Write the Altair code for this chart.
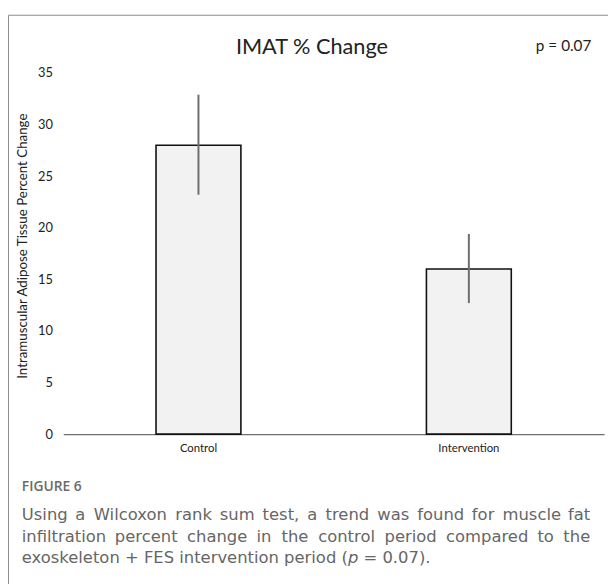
import altair as alt
import pandas as pd

groups = ["Control", "Intervention"]
means = [28.0, 16.0]
err_low = [23.2, 12.7]
err_high = [32.9, 19.4]
y_ticks = [0, 5, 10, 15, 20, 25, 30, 35]

chart_title = "IMAT % Change"
p_label = "p = 0.07"
y_title = "Intramuscular Adipose Tissue Percent Change"
fig_label = "FIGURE 6"
cap_line1 = "Using a Wilcoxon rank sum test, a trend was found for muscle fat"
cap_line2 = "infiltration percent change in the control period compared to the"
cap3_a = "exoskeleton + FES intervention period ("
cap3_p = "p"
cap3_b = "= 0.07)."

df = pd.DataFrame({"group": groups, "mean": means, "lo": err_low, "hi": err_high})

FONT = "Lato"
CAP_FONT = "DejaVu Sans"
CAP_SIZE = 16.6
CAPC = "#666666"

# approximate DejaVu Sans advance widths (units per em = 2048), used only to lay out
# the justified caption words
ADV = {" ": 651, "a": 1255, "b": 1300, "c": 1126, "d": 1300, "e": 1260, "f": 721, "g": 1300,
       "h": 1298, "i": 569, "k": 1186, "l": 569, "m": 1995, "n": 1298, "o": 1253, "p": 1300,
       "r": 842, "s": 1067, "t": 803, "u": 1298, "v": 1212, "w": 1675, "x": 1212, "y": 1212,
       "U": 1499, "W": 2025, "F": 1178, "E": 1294, "S": 1300, ",": 651, ".": 651, "(": 799,
       ")": 799, "+": 1716, "=": 1716, "0": 1303, "7": 1303}


def tw(s, size=CAP_SIZE, k=0.98):
    return sum(ADV.get(ch, 1200) for ch in s) / 2048.0 * size * k


# page x -> plot-relative x (8px page margin + 56px left padding)
def rx(page_x):
    return page_x - 64


one = pd.DataFrame({"a": [0]})

x_enc = alt.X("group:N", sort=groups,
              scale=alt.Scale(paddingInner=0, paddingOuter=0),
              axis=alt.Axis(title=None, labelAngle=0, ticks=False, domainColor="#6f6f6f",
                            domainWidth=1.3, labelPadding=9, labelFontSize=11.5,
                            labelColor="#222", labelFont=FONT))
y_enc = alt.Y("mean:Q", scale=alt.Scale(domain=[0, 35], nice=False),
              axis=alt.Axis(title=y_title, values=y_ticks, domain=False, ticks=False, grid=False,
                            labelPadding=11, labelFontSize=13, labelColor="#222", labelFont=FONT,
                            titleFont=FONT, titleFontSize=13.5, titleFontWeight="normal",
                            titleColor="#222", titleX=-34, titleY=175, titleAngle=-90,
                            titleBaseline="bottom", titleAlign="center"))

bars = alt.Chart(df).mark_bar(size=86, fill="#f2f2f2", stroke="#111", strokeWidth=1.6).encode(
    x=x_enc, y=y_enc)

errs = alt.Chart(df).mark_rule(color="#6e6e6e", strokeWidth=2).encode(
    x=alt.X("group:N", sort=groups), y="lo:Q", y2="hi:Q")

border = alt.Chart(one).mark_rect(fillOpacity=0, stroke="#8a8a8a", strokeWidth=1).encode(
    x=alt.value(-55.5), x2=alt.value(620), y=alt.value(-58.5), y2=alt.value(700))


def txt(text, x, y, size, color="#222", font=FONT, align="left", weight="normal", style="normal"):
    return alt.Chart(pd.DataFrame({"t": [text]})).mark_text(
        align=align, baseline="middle", fontSize=size, color=color, font=font,
        fontWeight=weight, fontStyle=style).encode(
        x=alt.value(x), y=alt.value(y), text="t:N")


def justified(line, y, left=22, right=598):
    words = line.split(" ")
    widths = [tw(w) for w in words]
    gap = (right - left - sum(widths)) / (len(words) - 1)
    out = []
    x = left
    for i, w in enumerate(words):
        if i == len(words) - 1:
            out.append(txt(w, rx(right), y, CAP_SIZE, color=CAPC, font=CAP_FONT, align="right"))
        else:
            out.append(txt(w, rx(x), y, CAP_SIZE, color=CAPC, font=CAP_FONT))
        x += widths[i] + gap
    return out


p_x = 22 + tw(cap3_a, k=1.0) - 1.5
b_x = p_x + tw("p", k=1.0) + tw(" ", k=1.0)

layers = [
    border, bars, errs,
    txt(chart_title, 252, -26, 22, align="center"),
    txt(p_label, 507, -27, 15.5, align="center"),
    txt(fig_label, rx(22), 420, 14, color="#6a6a6a", font="Open Sans", weight=600),
]
layers += justified(cap_line1, 448)
layers += justified(cap_line2, 470)
layers += [
    txt(cap3_a, rx(22), 492, CAP_SIZE, color=CAPC, font=CAP_FONT),
    txt(cap3_p, rx(p_x), 492, CAP_SIZE, color=CAPC, font=CAP_FONT, style="italic"),
    txt(cap3_b, rx(b_x), 492, CAP_SIZE, color=CAPC, font=CAP_FONT),
]

chart = alt.layer(*layers).properties(
    width=548, height=366,
    autosize=alt.AutoSizeParams(type="none"),
    padding={"left": 56, "top": 62, "right": 4, "bottom": 148},
).configure_view(stroke=None)

chart.save("out.html", embed_options={"renderer": "svg", "actions": False})
